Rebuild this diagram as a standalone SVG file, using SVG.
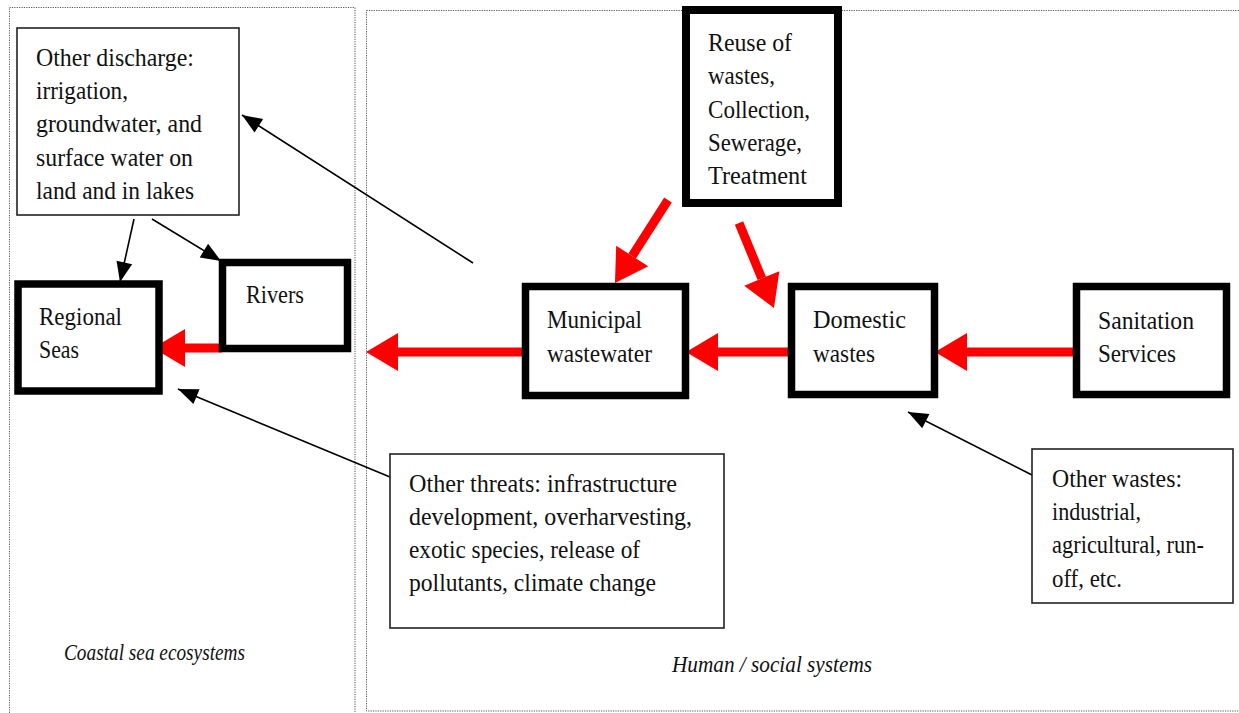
<svg xmlns="http://www.w3.org/2000/svg" width="1239" height="713" viewBox="0 0 1239 713">
<style>
.bg{fill:#fff}
.zone{fill:none;stroke:#555;stroke-width:1;stroke-dasharray:1.2 1.2}
.thin{fill:#fff;stroke:#222;stroke-width:1.6}
.thick{fill:#fff;stroke:#000;stroke-width:7.5}
.t{font-family:"Liberation Serif","Times New Roman",serif;font-size:25px;fill:#111}
.it{font-family:"Liberation Serif","Times New Roman",serif;font-size:23px;font-style:italic;fill:#111}
.red{stroke:#ff0000;stroke-width:9;fill:none;marker-end:url(#redHead)}
.blk{stroke:#000;stroke-width:1.6;fill:none;marker-end:url(#blkHead)}
</style>
<defs>
<marker id="redHead" markerUnits="userSpaceOnUse" markerWidth="32" markerHeight="38" refX="0" refY="19" orient="auto" overflow="visible">
<path d="M0,0 L32,19 L0,38 Z" fill="#ff0000"/>
</marker>
<marker id="blkHead" markerUnits="userSpaceOnUse" markerWidth="20" markerHeight="16" refX="20" refY="8" orient="auto" overflow="visible">
<path d="M0,0 L20,8 L0,16 Z" fill="#000"/>
</marker>
</defs>
<rect class="bg" x="0" y="0" width="1239" height="713"/>
<g id="zones">
<rect class="zone" x="9.5" y="7.5" width="345.5" height="720"/>
<rect class="zone" x="366.5" y="10.5" width="880" height="700.5"/>
<text class="it" x="64" y="660" textLength="181" lengthAdjust="spacingAndGlyphs">Coastal sea ecosystems</text>
<text class="it" x="672" y="672" textLength="200" lengthAdjust="spacingAndGlyphs">Human / social systems</text>
</g>
<g id="connectors">
<line class="red" x1="222" y1="348" x2="185" y2="348"/>
<line class="red" x1="525" y1="352" x2="398" y2="352"/>
<line class="red" x1="791" y1="352" x2="718" y2="352"/>
<line class="red" x1="1076" y1="352" x2="967" y2="352"/>
<line class="red" x1="668" y1="200" x2="632.2" y2="256"/>
<line class="red" x1="739" y1="223" x2="761.8" y2="278.4"/>
<line class="blk" x1="134" y1="219" x2="120" y2="282"/>
<line class="blk" x1="152" y1="219" x2="221" y2="261"/>
<line class="blk" x1="473" y1="263" x2="242" y2="115"/>
<line class="blk" x1="390" y1="477" x2="178" y2="389"/>
<line class="blk" x1="1032" y1="475" x2="908" y2="412"/>
</g>
<g id="other-discharge">
<rect class="thin" x="17" y="28" width="222" height="187"/>
<text class="t" x="36" y="66" textLength="158" lengthAdjust="spacingAndGlyphs">Other discharge:</text>
<text class="t" x="36" y="99" textLength="92" lengthAdjust="spacingAndGlyphs">irrigation,</text>
<text class="t" x="36" y="132" textLength="166" lengthAdjust="spacingAndGlyphs">groundwater, and</text>
<text class="t" x="36" y="166" textLength="157" lengthAdjust="spacingAndGlyphs">surface water on</text>
<text class="t" x="36" y="199" textLength="158" lengthAdjust="spacingAndGlyphs">land and in lakes</text>
</g>
<g id="regional-seas">
<rect class="thick" x="18" y="284" width="141" height="107"/>
<text class="t" x="39" y="325" textLength="83" lengthAdjust="spacingAndGlyphs">Regional</text>
<text class="t" x="39" y="358" textLength="40" lengthAdjust="spacingAndGlyphs">Seas</text>
</g>
<g id="rivers">
<rect class="thick" x="222.5" y="262.5" width="125" height="86"/>
<text class="t" x="246" y="303" textLength="58" lengthAdjust="spacingAndGlyphs">Rivers</text>
</g>
<g id="reuse">
<rect class="thick" x="686" y="10" width="152" height="193" style="stroke-width:8"/>
<text class="t" x="708" y="51" textLength="84" lengthAdjust="spacingAndGlyphs">Reuse of</text>
<text class="t" x="708" y="84" textLength="67" lengthAdjust="spacingAndGlyphs">wastes,</text>
<text class="t" x="708" y="118" textLength="102" lengthAdjust="spacingAndGlyphs">Collection,</text>
<text class="t" x="708" y="151" textLength="94" lengthAdjust="spacingAndGlyphs">Sewerage,</text>
<text class="t" x="708" y="184" textLength="99" lengthAdjust="spacingAndGlyphs">Treatment</text>
</g>
<g id="municipal">
<rect class="thick" x="525.5" y="286.5" width="160" height="109"/>
<text class="t" x="547" y="328" textLength="95" lengthAdjust="spacingAndGlyphs">Municipal</text>
<text class="t" x="547" y="362" textLength="105" lengthAdjust="spacingAndGlyphs">wastewater</text>
</g>
<g id="domestic">
<rect class="thick" x="791.5" y="286.5" width="143" height="108"/>
<text class="t" x="813" y="328" textLength="93" lengthAdjust="spacingAndGlyphs">Domestic</text>
<text class="t" x="813" y="362" textLength="62" lengthAdjust="spacingAndGlyphs">wastes</text>
</g>
<g id="sanitation">
<rect class="thick" x="1076.5" y="286.5" width="150" height="108"/>
<text class="t" x="1098" y="329" textLength="96" lengthAdjust="spacingAndGlyphs">Sanitation</text>
<text class="t" x="1098" y="362" textLength="78" lengthAdjust="spacingAndGlyphs">Services</text>
</g>
<g id="other-threats">
<rect class="thin" x="390" y="454" width="334" height="174"/>
<text class="t" x="409" y="492" textLength="268" lengthAdjust="spacingAndGlyphs">Other threats: infrastructure</text>
<text class="t" x="409" y="525" textLength="283" lengthAdjust="spacingAndGlyphs">development, overharvesting,</text>
<text class="t" x="409" y="558" textLength="231" lengthAdjust="spacingAndGlyphs">exotic species, release of</text>
<text class="t" x="409" y="591" textLength="247" lengthAdjust="spacingAndGlyphs">pollutants, climate change</text>
</g>
<g id="other-wastes">
<rect class="thin" x="1032" y="449" width="201" height="154"/>
<text class="t" x="1052" y="487" textLength="130" lengthAdjust="spacingAndGlyphs">Other wastes:</text>
<text class="t" x="1052" y="520" textLength="89" lengthAdjust="spacingAndGlyphs">industrial,</text>
<text class="t" x="1052" y="553" textLength="152" lengthAdjust="spacingAndGlyphs">agricultural, run-</text>
<text class="t" x="1052" y="587" textLength="70" lengthAdjust="spacingAndGlyphs">off, etc.</text>
</g>
</svg>
